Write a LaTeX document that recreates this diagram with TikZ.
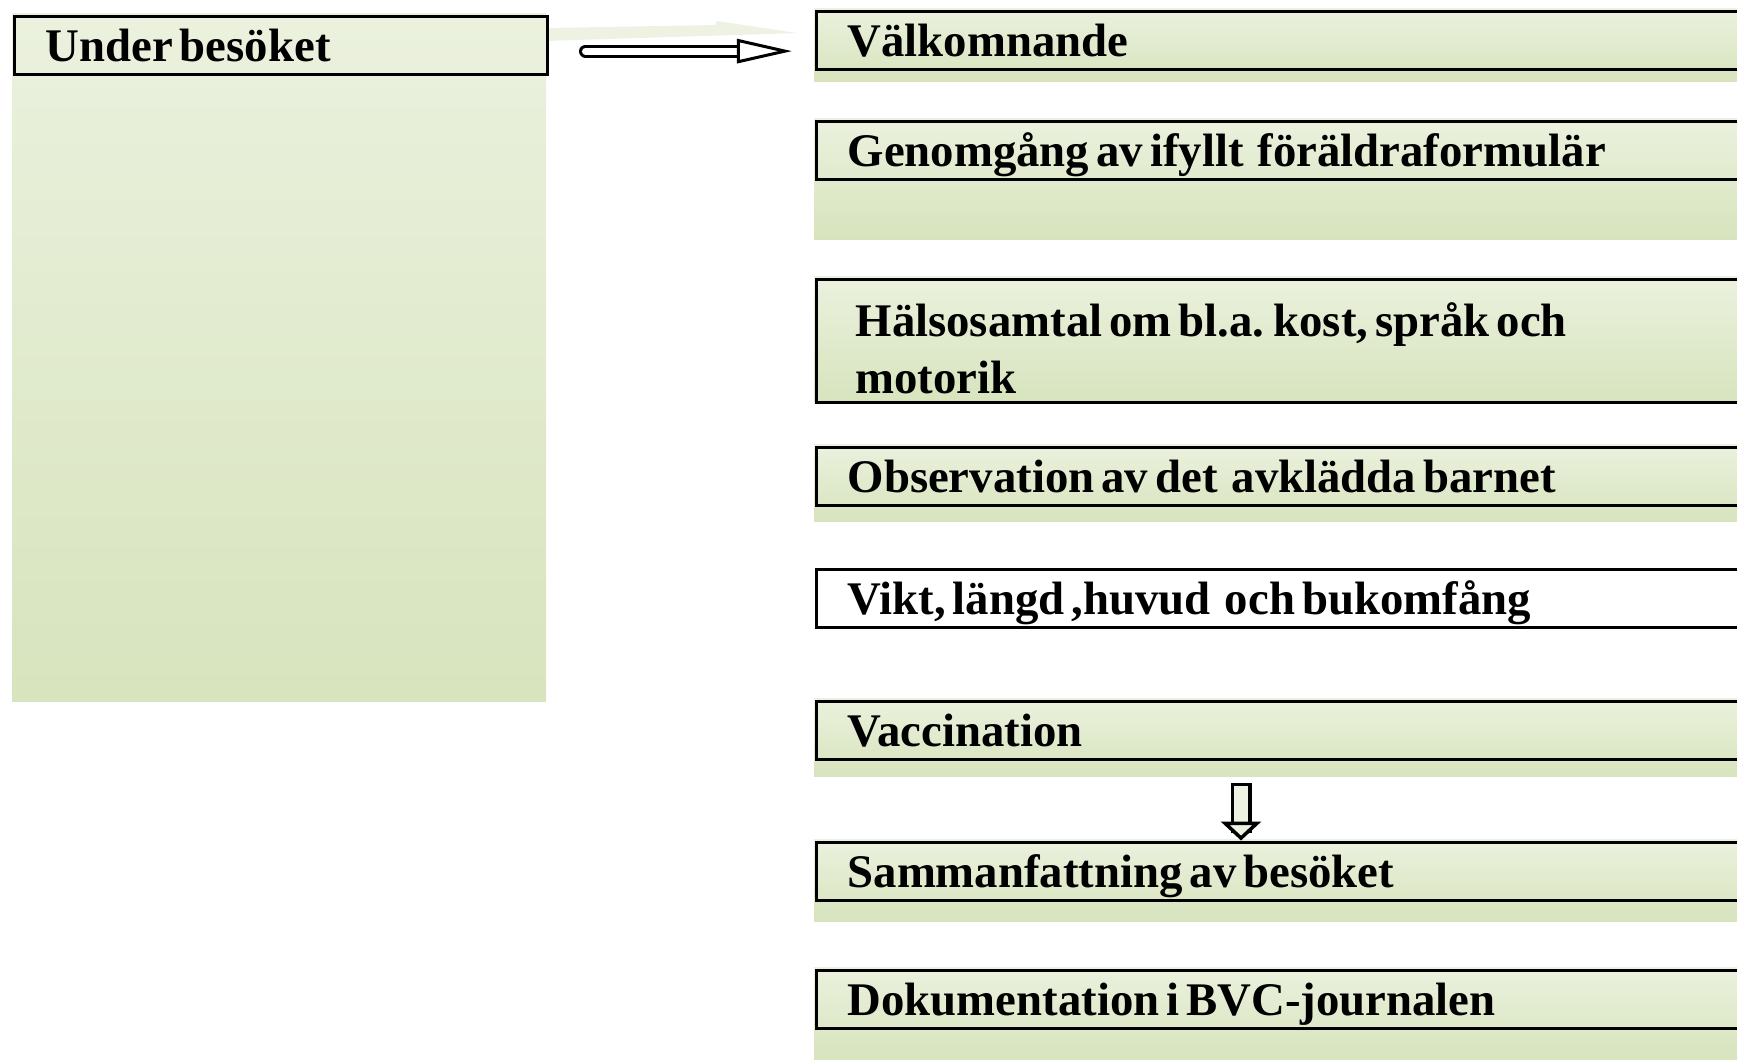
\documentclass[tikz,border=0pt]{standalone}
\usepackage{fontspec}
\setmainfont{Liberation Serif}
\usetikzlibrary{positioning,arrows.meta}
\definecolor{olivelight}{HTML}{EBF1DE}
\definecolor{olivedark}{HTML}{D7E4BD}
\definecolor{oliveghost}{HTML}{EDF2E3}
\newcommand\tightspacing{\spaceskip=2pt plus 1pt minus .5pt\xspaceskip=2.5pt plus 1pt\relax}

\begin{document}
\begin{tikzpicture}
    [ x = .01cm, y = -.01cm
    , panel/.style =
      { top color = olivelight, bottom color = olivedark }
    , header/.style =
      { draw, line width = .9pt, anchor = north west
      , inner ysep = 0pt, inner xsep = .31cm
      , text width = 9.0cm, text height = .45cm, text depth = .13cm
      , align = left, execute at begin node = \tightspacing
      , font = \bfseries\fontsize{13.3}{16.2}\selectfont }
    , rightarrow/.style =
      { double = white, double distance = .07cm, line width = .03cm
      , line cap = round
      , -{Triangle[open, fill = white, line width = .03cm, length = .55cm, width = .24cm]} }
    , downarrow/.style =
      { double = oliveghost, double distance = .14cm, line width = .035cm
      , line cap = rect
      , -{Triangle[fill = oliveghost, line width = .035cm, length = .19cm, width = .40cm]} }
    ]
    \useasboundingbox (0,0) rectangle (1737,1059);
    \clip (0,0) rectangle (1737,1059);

    % background panels
    \shade [panel] (12,13) rectangle (546,701);
    \shade [panel] (814,8) rectangle (1760,81);
    \shade [panel] (814,118) rectangle (1760,239);
    \shade [panel] (814,276) rectangle (1760,402);
    \shade [panel] (814,444) rectangle (1760,521);
    \shade [panel] (814,698) rectangle (1760,776);
    \shade [panel] (814,839) rectangle (1760,921);
    \shade [panel] (814,967) rectangle (1760,1059);
    \fill [oliveghost] (546,28) -- (715,25) -- (717,21) -- (797,33) -- (546,41) -- cycle;

    \node [header, text width = 4.71cm] (under) at (13,14.5) {Under besöket};
    \node [header] (valk) at (815,9.5) {Välkomnande};
    \node [header] (genom) at (815,119.5) {Genomgång av ifyllt~ föräldraformulär};
    \node [header, inner xsep = .39cm, text width = 8.84cm
          , text height = .575cm, text depth = .655cm] (halsa) at (815,277.5)
          {Hälsosamtal om bl.a. kost, språk och\\motorik};
    \node [header] (obs) at (815,445.5) {Observation av det~ avklädda barnet};
    \node [header] (vikt) at (815,567.5) {Vikt, längd ,huvud~ och bukomfång};
    \node [header] (vacc) at (815,699.5) {Vaccination};
    \node [header] (summ) at (815,840.5) {Sammanfattning av besöket};
    \node [header] (dok) at (815,968.5) {Dokumentation i BVC-journalen};

    \coordinate (rstart) at ([shift={(.36cm,-.06cm)}]under.east);
    \draw [rightarrow, shorten >= .23cm] (rstart) -- (rstart -| valk.west);
    \coordinate (dtop) at (1241,793);
    \draw [downarrow] (dtop) -- (dtop |- summ.north);
\end{tikzpicture}
\end{document}
